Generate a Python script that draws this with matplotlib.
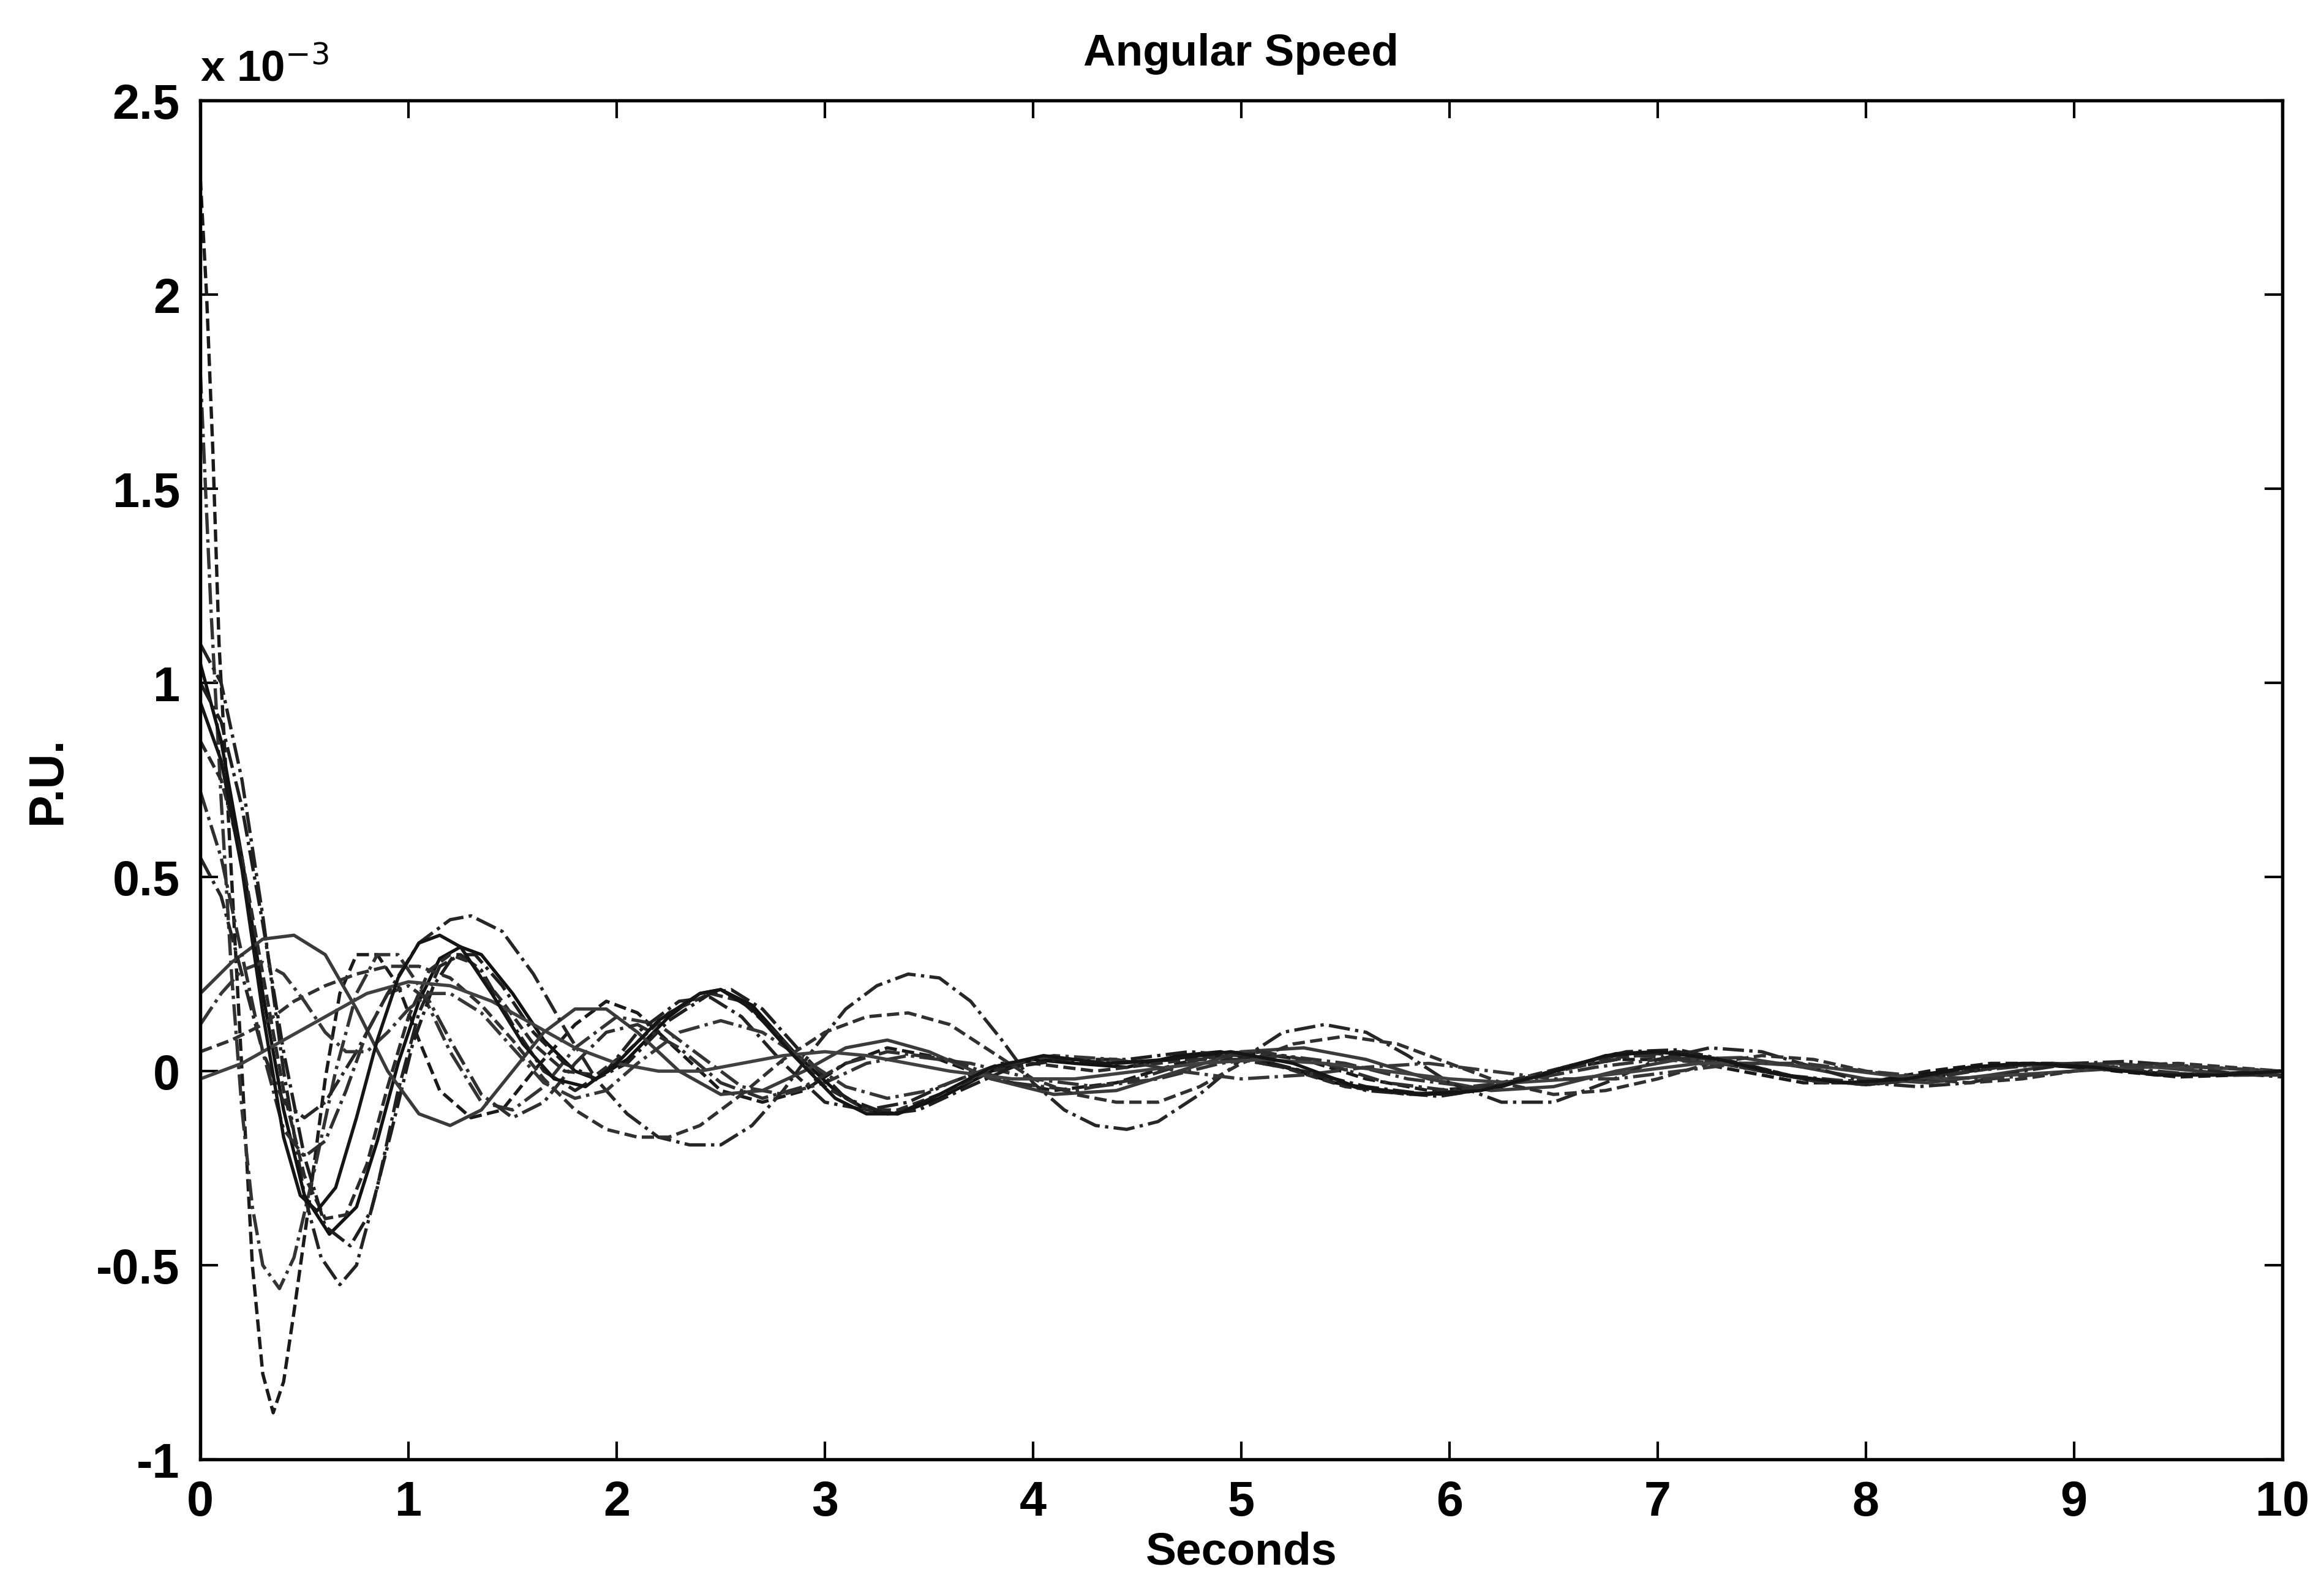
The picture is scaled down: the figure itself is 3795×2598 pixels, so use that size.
import matplotlib
matplotlib.use("Agg")
import matplotlib.pyplot as plt

plt.rcParams['font.family'] = ['Liberation Sans', 'DejaVu Sans']
plt.rcParams['axes.unicode_minus'] = False

# speed deviation curves, values in units of 1e-3 P.U.
# each curve: list of (seconds, value)
c1 = [(0, 2.3), (0.03, 2.0), (0.06, 1.6), (0.09, 1.1), (0.12, 0.8), (0.15, 0.5), (0.2, 0.0), (0.25, -0.5),
      (0.3, -0.78), (0.35, -0.88), (0.4, -0.8), (0.45, -0.62), (0.52, -0.35), (0.6, -0.02), (0.67, 0.2),
      (0.75, 0.3), (0.85, 0.3), (0.95, 0.22), (1.05, 0.08), (1.15, -0.05), (1.3, -0.12), (1.45, -0.1),
      (1.6, 0.0), (1.8, 0.12), (1.95, 0.18), (2.1, 0.15), (2.3, 0.05), (2.5, -0.05), (2.7, -0.08),
      (2.9, -0.05), (3.1, 0.02), (3.3, 0.06), (3.5, 0.04), (3.8, -0.02), (4.1, -0.05), (4.4, -0.03),
      (4.7, 0.02), (5.0, 0.05), (5.3, 0.03), (5.6, -0.02), (5.9, -0.05), (6.2, -0.04), (6.5, 0.0),
      (6.8, 0.03), (7.1, 0.03), (7.4, 0.0), (7.7, -0.03), (8.0, -0.03), (8.3, 0.0), (8.6, 0.02),
      (8.9, 0.02), (9.2, 0.0), (9.5, -0.015), (9.8, -0.01), (10, 0.0)]
c2 = [(0, 1.8), (0.05, 1.2), (0.1, 0.7), (0.15, 0.25), (0.2, -0.1), (0.25, -0.35), (0.3, -0.5), (0.38, -0.56),
      (0.45, -0.48), (0.55, -0.25), (0.65, 0.0), (0.75, 0.2), (0.85, 0.3), (0.95, 0.3), (1.05, 0.22),
      (1.2, 0.05), (1.35, -0.08), (1.5, -0.1), (1.65, -0.04), (1.8, 0.06), (2.0, 0.14), (2.2, 0.12),
      (2.4, 0.04), (2.6, -0.04), (2.8, -0.06), (3.0, -0.03), (3.2, 0.02), (3.4, 0.04), (3.7, 0.02),
      (4.0, -0.02), (4.3, -0.04), (4.6, -0.02), (4.9, 0.02), (5.2, 0.04), (5.5, 0.02), (5.8, -0.02),
      (6.1, -0.04), (6.4, -0.02), (6.7, 0.01), (7.0, 0.03), (7.3, 0.02), (7.6, -0.01), (7.9, -0.025),
      (8.2, -0.02), (8.5, 0.0), (8.8, 0.015), (9.1, 0.01), (9.4, -0.005), (9.7, -0.01), (10, 0.0)]
c3 = [(0, 1.1), (0.1, 1.0), (0.2, 0.75), (0.3, 0.4), (0.4, 0.0), (0.5, -0.32), (0.58, -0.48), (0.67, -0.55),
      (0.75, -0.5), (0.85, -0.3), (0.95, -0.05), (1.05, 0.15), (1.15, 0.27), (1.25, 0.3), (1.35, 0.26),
      (1.5, 0.12), (1.65, 0.0), (1.8, -0.05), (1.95, 0.0), (2.1, 0.1), (2.3, 0.18), (2.45, 0.19),
      (2.6, 0.14), (2.8, 0.02), (3.0, -0.08), (3.2, -0.1), (3.4, -0.08), (3.6, -0.03), (3.85, 0.02),
      (4.1, 0.03), (4.4, 0.02), (4.7, 0.03), (5.0, 0.03), (5.3, 0.0), (5.6, -0.04), (5.9, -0.06),
      (6.2, -0.04), (6.5, 0.0), (6.8, 0.04), (7.1, 0.05), (7.4, 0.02), (7.7, -0.02), (8.0, -0.035),
      (8.3, -0.02), (8.6, 0.01), (8.9, 0.02), (9.2, 0.01), (9.5, -0.01), (9.8, -0.005), (10, 0.0)]
c4 = [(0, 1.05), (0.1, 0.85), (0.2, 0.55), (0.3, 0.2), (0.4, -0.1), (0.5, -0.32), (0.62, -0.42), (0.75, -0.35),
      (0.85, -0.18), (0.95, 0.02), (1.05, 0.18), (1.15, 0.29), (1.25, 0.32), (1.35, 0.3), (1.5, 0.2),
      (1.65, 0.08), (1.8, 0.0), (1.9, -0.02), (2.05, 0.03), (2.25, 0.14), (2.4, 0.2), (2.5, 0.21),
      (2.65, 0.17), (2.85, 0.05), (3.05, -0.05), (3.2, -0.1), (3.35, -0.11), (3.55, -0.07), (3.8, 0.0),
      (4.0, 0.03), (4.2, 0.02), (4.45, 0.01), (4.7, 0.04), (4.9, 0.05), (5.15, 0.02), (5.45, -0.03),
      (5.75, -0.055), (6.0, -0.06), (6.25, -0.04), (6.55, 0.01), (6.8, 0.045), (7.0, 0.05), (7.25, 0.035),
      (7.5, 0.0), (7.75, -0.025), (7.95, -0.03), (8.2, -0.015), (8.5, 0.01), (8.75, 0.02), (9.0, 0.01),
      (9.25, 0.0), (9.5, -0.01), (9.75, -0.005), (10, 0.0)]
c5 = [(0, 0.85), (0.1, 0.75), (0.2, 0.55), (0.3, 0.25), (0.4, -0.05), (0.5, -0.27), (0.6, -0.38), (0.7, -0.37),
      (0.8, -0.24), (0.9, -0.04), (1.0, 0.14), (1.1, 0.26), (1.2, 0.3), (1.3, 0.28), (1.45, 0.18),
      (1.6, 0.07), (1.75, 0.0), (1.9, -0.01), (2.05, 0.05), (2.25, 0.15), (2.45, 0.2), (2.6, 0.18),
      (2.8, 0.08), (3.0, -0.04), (3.2, -0.1), (3.35, -0.1), (3.55, -0.06), (3.8, 0.0), (4.0, 0.02),
      (4.3, 0.0), (4.6, 0.02), (4.9, 0.04), (5.2, 0.01), (5.5, -0.04), (5.8, -0.06), (6.1, -0.05),
      (6.4, -0.01), (6.7, 0.03), (7.0, 0.045), (7.3, 0.03), (7.6, -0.01), (7.9, -0.03), (8.2, -0.02),
      (8.5, 0.005), (8.8, 0.02), (9.1, 0.01), (9.4, -0.005), (9.7, -0.01), (10, 0.0)]
c6 = [(0, 1.0), (0.1, 0.9), (0.2, 0.68), (0.3, 0.38), (0.4, 0.05), (0.5, -0.22), (0.6, -0.4), (0.72, -0.45),
      (0.82, -0.36), (0.92, -0.15), (1.02, 0.07), (1.12, 0.22), (1.22, 0.3), (1.32, 0.3), (1.45, 0.22),
      (1.6, 0.1), (1.75, 0.02), (1.9, -0.02), (2.05, 0.02), (2.25, 0.13), (2.45, 0.2), (2.55, 0.21),
      (2.7, 0.16), (2.9, 0.04), (3.1, -0.07), (3.3, -0.11), (3.45, -0.1), (3.65, -0.05), (3.9, 0.01),
      (4.15, 0.03), (4.45, 0.03), (4.75, 0.05), (5.0, 0.04), (5.3, 0.0), (5.6, -0.05), (5.95, -0.065),
      (6.25, -0.04), (6.55, 0.01), (6.85, 0.05), (7.1, 0.055), (7.4, 0.02), (7.7, -0.02), (8.0, -0.035),
      (8.3, -0.02), (8.6, 0.01), (8.9, 0.02), (9.2, 0.005), (9.5, -0.01), (9.8, -0.005), (10, 0.0)]
c7 = [(0, 0.2), (0.15, 0.28), (0.3, 0.34), (0.45, 0.35), (0.6, 0.3), (0.75, 0.16), (0.9, 0.0), (1.05, -0.11),
      (1.2, -0.14), (1.35, -0.1), (1.5, 0.0), (1.65, 0.1), (1.8, 0.16), (1.95, 0.16), (2.1, 0.1),
      (2.3, 0.0), (2.5, -0.06), (2.7, -0.05), (2.9, 0.0), (3.1, 0.06), (3.3, 0.08), (3.5, 0.05),
      (3.8, -0.02), (4.1, -0.06), (4.4, -0.05), (4.7, 0.0), (5.0, 0.05), (5.3, 0.06), (5.6, 0.03),
      (5.9, -0.02), (6.2, -0.05), (6.5, -0.04), (6.8, 0.0), (7.1, 0.03), (7.4, 0.035), (7.7, 0.01),
      (8.0, -0.02), (8.3, -0.03), (8.6, -0.01), (8.9, 0.015), (9.2, 0.02), (9.5, 0.005), (9.8, -0.01),
      (10, -0.01)]
c8 = [(0, 0.55), (0.1, 0.45), (0.2, 0.25), (0.3, 0.05), (0.4, -0.08), (0.5, -0.12), (0.6, -0.08), (0.75, 0.05),
      (0.9, 0.2), (1.05, 0.33), (1.2, 0.39), (1.3, 0.4), (1.45, 0.36), (1.6, 0.25), (1.75, 0.11),
      (1.9, -0.02), (2.05, -0.11), (2.2, -0.17), (2.35, -0.19), (2.5, -0.19), (2.65, -0.14), (2.8, -0.05),
      (2.95, 0.06), (3.1, 0.16), (3.25, 0.22), (3.4, 0.25), (3.55, 0.24), (3.7, 0.18), (3.85, 0.08),
      (4.0, -0.03), (4.15, -0.1), (4.3, -0.14), (4.45, -0.15), (4.6, -0.13), (4.8, -0.06), (5.0, 0.03),
      (5.2, 0.1), (5.4, 0.12), (5.6, 0.1), (5.8, 0.04), (6.0, -0.03), (6.25, -0.08), (6.5, -0.08),
      (6.75, -0.03), (7.0, 0.03), (7.25, 0.06), (7.5, 0.05), (7.75, 0.01), (8.0, -0.03), (8.25, -0.04),
      (8.5, -0.03), (8.75, 0.0), (9.0, 0.02), (9.25, 0.025), (9.5, 0.015), (9.75, -0.005), (10, -0.015)]
c9 = [(0, 0.05), (0.15, 0.08), (0.3, 0.12), (0.45, 0.18), (0.6, 0.22), (0.75, 0.25), (0.9, 0.27), (1.05, 0.27),
      (1.2, 0.24), (1.35, 0.17), (1.5, 0.08), (1.65, -0.02), (1.8, -0.1), (1.95, -0.15), (2.1, -0.17),
      (2.25, -0.17), (2.4, -0.14), (2.6, -0.06), (2.8, 0.03), (3.0, 0.1), (3.2, 0.14), (3.4, 0.15),
      (3.6, 0.12), (3.8, 0.05), (4.0, -0.02), (4.2, -0.06), (4.4, -0.08), (4.6, -0.08), (4.8, -0.04),
      (5.0, 0.02), (5.25, 0.07), (5.5, 0.09), (5.75, 0.07), (6.0, 0.02), (6.25, -0.03), (6.5, -0.06),
      (6.75, -0.05), (7.0, -0.02), (7.25, 0.02), (7.5, 0.04), (7.75, 0.03), (8.0, 0.0), (8.25, -0.02),
      (8.5, -0.03), (8.75, -0.02), (9.0, 0.0), (9.25, 0.015), (9.5, 0.02), (9.75, 0.01), (10, 0.0)]
c10 = [(0, 0.72), (0.1, 0.55), (0.2, 0.3), (0.3, 0.05), (0.4, -0.15), (0.5, -0.22), (0.6, -0.18), (0.7, -0.05),
       (0.8, 0.1), (0.9, 0.2), (1.0, 0.22), (1.1, 0.18), (1.2, 0.08), (1.35, -0.06), (1.5, -0.12),
       (1.65, -0.08), (1.8, 0.02), (1.95, 0.1), (2.1, 0.12), (2.3, 0.06), (2.5, -0.03), (2.7, -0.07),
       (2.9, -0.04), (3.1, 0.02), (3.3, 0.05), (3.6, 0.03), (3.9, -0.03), (4.2, -0.05), (4.5, -0.02),
       (4.8, 0.03), (5.1, 0.05), (5.4, 0.02), (5.7, -0.03), (6.0, -0.05), (6.3, -0.03), (6.6, 0.01),
       (6.9, 0.04), (7.2, 0.03), (7.5, 0.0), (7.8, -0.03), (8.1, -0.03), (8.4, -0.01), (8.7, 0.015),
       (9.0, 0.02), (9.3, 0.005), (9.6, -0.01), (10, -0.01)]
c11 = [(0, -0.02), (0.2, 0.02), (0.4, 0.08), (0.6, 0.14), (0.8, 0.2), (1.0, 0.23), (1.2, 0.22), (1.4, 0.18),
       (1.6, 0.12), (1.8, 0.06), (2.0, 0.02), (2.2, 0.0), (2.4, 0.0), (2.6, 0.02), (2.8, 0.04), (3.0, 0.05),
       (3.2, 0.04), (3.4, 0.02), (3.6, 0.0), (3.9, -0.02), (4.2, -0.02), (4.5, 0.0), (4.8, 0.02), (5.1, 0.03),
       (5.4, 0.02), (5.7, 0.0), (6.0, -0.02), (6.3, -0.03), (6.6, -0.02), (6.9, 0.0), (7.2, 0.02),
       (7.5, 0.02), (7.8, 0.01), (8.1, -0.01), (8.4, -0.02), (8.7, -0.01), (9.0, 0.0), (9.3, 0.01),
       (9.6, 0.01), (10, 0.0)]
c12 = [(0, 0.12), (0.1, 0.2), (0.2, 0.26), (0.3, 0.28), (0.4, 0.25), (0.5, 0.18), (0.6, 0.1), (0.7, 0.05),
       (0.8, 0.05), (0.9, 0.1), (1.0, 0.16), (1.1, 0.2), (1.2, 0.2), (1.35, 0.15), (1.5, 0.06), (1.65, -0.03),
       (1.8, -0.07), (1.95, -0.05), (2.1, 0.02), (2.3, 0.1), (2.5, 0.13), (2.7, 0.1), (2.9, 0.03),
       (3.1, -0.04), (3.3, -0.07), (3.5, -0.05), (3.8, 0.01), (4.1, 0.04), (4.4, 0.03), (4.7, 0.0),
       (5.0, -0.02), (5.3, -0.01), (5.6, 0.01), (5.9, 0.02), (6.2, 0.0), (6.5, -0.02), (6.8, -0.02),
       (7.1, 0.0), (7.4, 0.02), (7.7, 0.02), (8.0, 0.0), (8.3, -0.015), (8.6, -0.02), (8.9, -0.005),
       (9.2, 0.01), (9.5, 0.015), (9.8, 0.005), (10, 0.0)]
c13 = [(0, 0.95), (0.1, 0.8), (0.2, 0.52), (0.3, 0.15), (0.4, -0.17), (0.48, -0.32), (0.56, -0.36), (0.65, -0.3),
       (0.75, -0.12), (0.85, 0.08), (0.95, 0.24), (1.05, 0.33), (1.15, 0.35), (1.25, 0.32), (1.4, 0.2),
       (1.55, 0.07), (1.7, -0.02), (1.85, -0.04), (2.0, 0.02), (2.2, 0.13), (2.4, 0.2), (2.5, 0.21),
       (2.65, 0.16), (2.85, 0.04), (3.05, -0.07), (3.2, -0.11), (3.35, -0.11), (3.55, -0.06), (3.8, 0.01),
       (4.05, 0.04), (4.35, 0.02), (4.65, 0.03), (4.95, 0.05), (5.25, 0.02), (5.55, -0.04), (5.85, -0.06),
       (6.15, -0.05), (6.45, -0.01), (6.75, 0.04), (7.0, 0.05), (7.3, 0.03), (7.6, -0.01), (7.9, -0.03),
       (8.2, -0.02), (8.5, 0.01), (8.8, 0.02), (9.1, 0.01), (9.4, -0.01), (9.7, -0.01), (10, 0.0)]

curves = [c1, c2, c3, c4, c5, c6, c7, c8, c9, c10, c11, c12, c13]
styles = ['--', '-.', '-.', '-', '--', '-.', '-', '-.', '--', '-.', '-', '-.', '-']
shades = ['#1a1a1a', '#333333', '#222222', '#111111', '#2a2a2a', '#1e1e1e', '#3a3a3a',
          '#262626', '#303030', '#2e2e2e', '#404040', '#363636', '#151515']

fig = plt.figure(figsize=(12.65, 8.663), dpi=300)
ax = fig.add_axes([0.0862, 0.0827, 0.8958, 0.8538])

for crv, ls, col in zip(curves, styles, shades):
    t = [p[0] for p in crv]
    v = [p[1] for p in crv]
    ax.plot(t, v, linestyle=ls, color=col, linewidth=1.3)

ax.set_xlim(0, 10)
ax.set_ylim(-1, 2.5)
ax.set_xticks(range(0, 11))
ax.set_yticks([-1, -0.5, 0, 0.5, 1, 1.5, 2, 2.5])
ax.set_yticklabels(['-1', '-0.5', '0', '0.5', '1', '1.5', '2', '2.5'])
ax.tick_params(direction='in', length=7, width=1.0, top=True, right=True,
               labelsize=19, pad=8)
for lab in ax.get_xticklabels() + ax.get_yticklabels():
    lab.set_fontweight('bold')
for sp in ax.spines.values():
    sp.set_linewidth(1.3)

ax.set_title('Angular Speed', fontsize=17.5, fontweight='bold', pad=14)
ax.set_xlabel('Seconds', fontsize=18, fontweight='bold', labelpad=2)
ax.set_ylabel('P.U.', fontsize=19, fontweight='bold', labelpad=10)
ax.text(0.0, 1.008, r'x 10$^{-3}$', transform=ax.transAxes, fontsize=17,
        fontweight='bold', ha='left', va='bottom')

fig.savefig('out.png', dpi=300, facecolor='white')
